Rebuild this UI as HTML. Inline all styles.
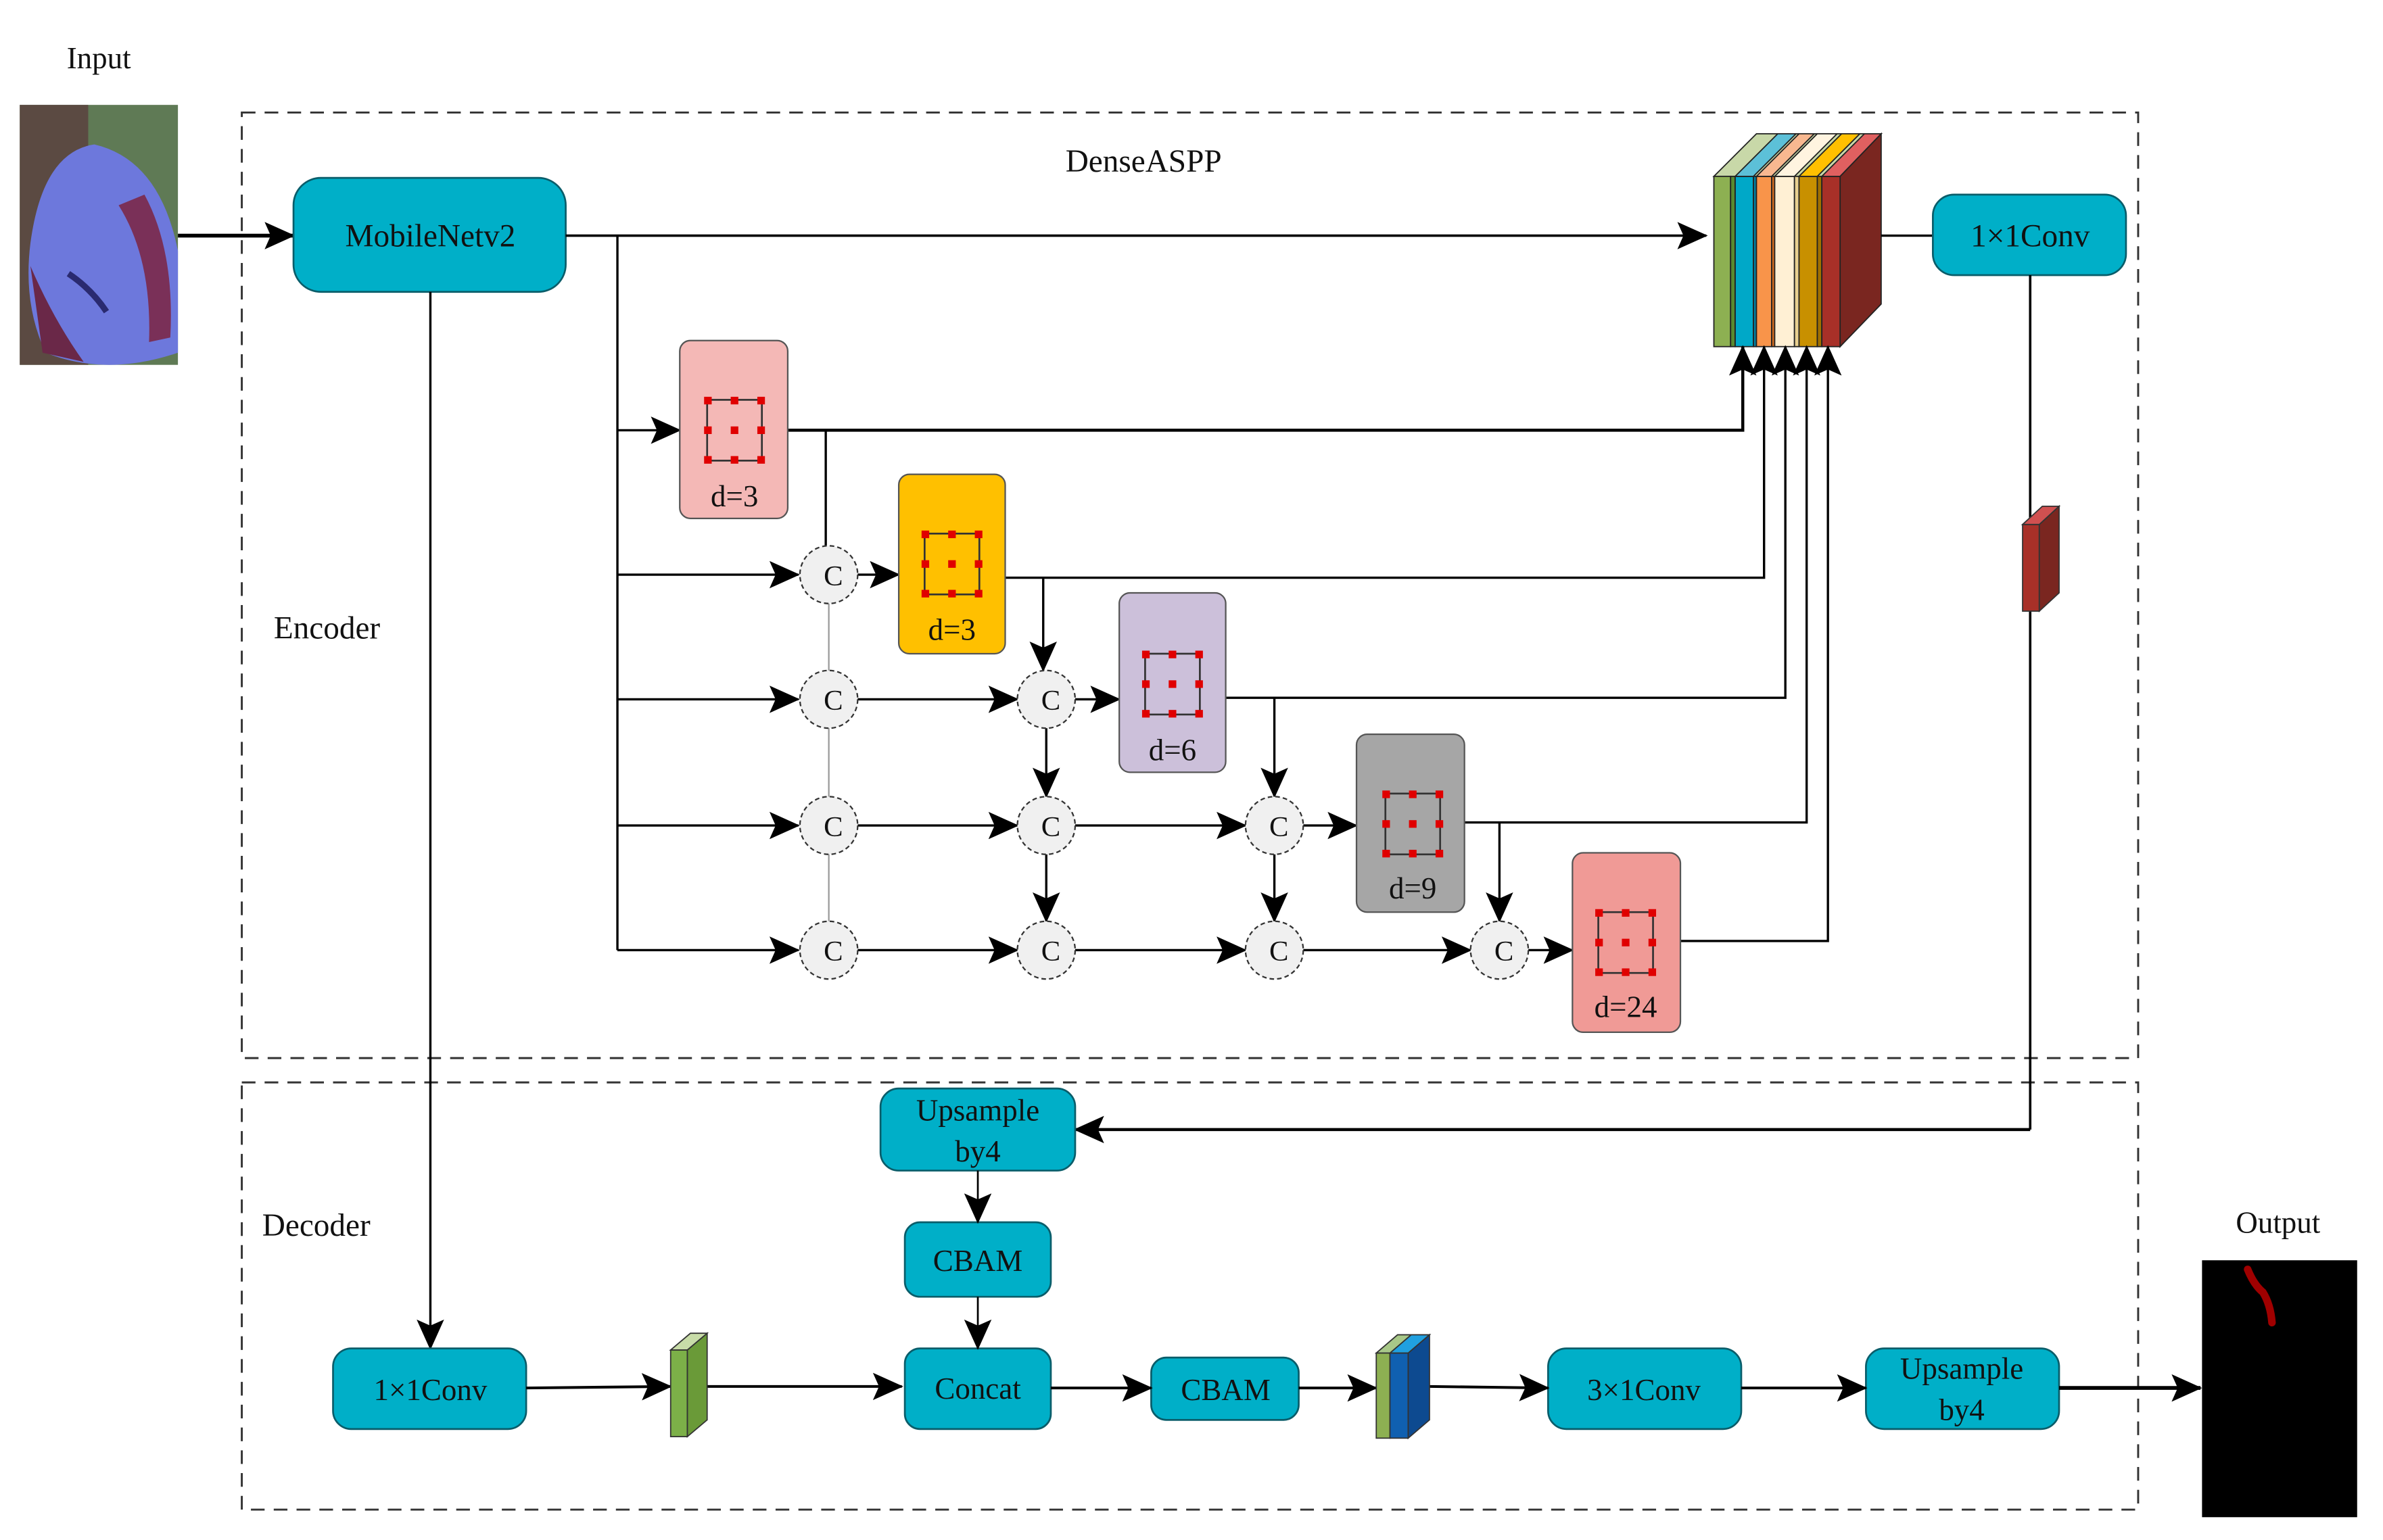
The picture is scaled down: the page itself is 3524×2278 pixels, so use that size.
<!DOCTYPE html>
<html><head><meta charset="utf-8"><style>
html,body{margin:0;padding:0;background:#fff;}
svg{display:block;}
text{font-family:"Liberation Serif",serif;fill:#111;}
</style></head><body>
<svg width="3524" height="2278" viewBox="0 0 1567 1013" preserveAspectRatio="none" xmlns="http://www.w3.org/2000/svg">
<defs>
<marker id="b" markerWidth="20" markerHeight="20" refX="19" refY="10" orient="auto" markerUnits="userSpaceOnUse" viewBox="0 0 20 20"><path d="M0,1 L20,10 L0,19 L4,10 z" fill="#000"/></marker>
<g id="k">
<rect x="-18" y="-20" width="36" height="40" fill="none" stroke="#333" stroke-width="1.2"/>
<g fill="#e00000">
<rect x="-20" y="-22" width="5" height="5"/><rect x="-2.5" y="-22" width="5" height="5"/><rect x="15" y="-22" width="5" height="5"/>
<rect x="-20" y="-2.5" width="5" height="5"/><rect x="-2.5" y="-2.5" width="5" height="5"/><rect x="15" y="-2.5" width="5" height="5"/>
<rect x="-20" y="17" width="5" height="5"/><rect x="-2.5" y="17" width="5" height="5"/><rect x="15" y="17" width="5" height="5"/>
</g></g>
</defs>

<!-- Input -->
<text x="65" y="45" font-size="20" text-anchor="middle">Input</text>
<rect x="13" y="69" width="104" height="171" fill="#5f7a55"/>
<rect x="13" y="69" width="45" height="171" fill="#5b4a42"/>
<path d="M20,160 Q28,100 62,95 Q105,105 117,165 L117,232 Q70,248 30,232 Q15,200 20,160 z" fill="#6d78dc"/>
<path d="M20,175 Q35,210 55,238 L28,232 z" fill="#6a2848"/>
<path d="M78,135 Q100,170 98,225 L112,222 Q115,165 95,128 z" fill="#7a3058"/>
<path d="M45,180 Q60,190 70,205" stroke="#2a2a70" stroke-width="4" fill="none"/>

<!-- dashed boxes -->
<rect x="159" y="74" width="1247" height="622" fill="none" stroke="#333" stroke-width="1.3" stroke-dasharray="9,6"/>
<rect x="159" y="712" width="1247" height="281" fill="none" stroke="#333" stroke-width="1.3" stroke-dasharray="9,6"/>

<text x="752" y="113" font-size="21" text-anchor="middle">DenseASPP</text>
<text x="215" y="420" font-size="21" text-anchor="middle">Encoder</text>
<text x="208" y="813" font-size="21" text-anchor="middle">Decoder</text>

<!-- MobileNet -->
<line x1="117" y1="155" x2="193" y2="155" stroke="#000" stroke-width="2.5" marker-end="url(#b)"/>
<rect x="193" y="117" width="179" height="75" rx="18" fill="#00afc8" stroke="#0a5d6a" stroke-width="1.2"/>
<text x="283" y="162" font-size="21" text-anchor="middle">MobileNetv2</text>
<line x1="372" y1="155" x2="1122" y2="155" stroke="#000" stroke-width="1.6" marker-end="url(#b)"/>

<!-- stack -->
<g stroke="#222" stroke-width="0.8">
<polygon points="1127,116 1155,88 1237,88 1209,116" fill="#c8d8a8"/>
<polygon points="1210,116 1237,88 1237,200 1210,228" fill="#7a2620"/>
<rect x="1127" y="116" width="11" height="112" fill="#8db052"/>
<rect x="1138" y="116" width="3" height="112" fill="#5a8a30"/>
<rect x="1141" y="116" width="12" height="112" fill="#00a8c8"/>
<rect x="1153" y="116" width="2" height="112" fill="#0080a0"/>
<rect x="1155" y="116" width="10" height="112" fill="#f8944a"/>
<rect x="1165" y="116" width="2" height="112" fill="#d06a20"/>
<rect x="1167" y="116" width="13" height="112" fill="#fff0d4"/>
<rect x="1180" y="116" width="3" height="112" fill="#e8d090"/>
<rect x="1183" y="116" width="12" height="112" fill="#c89000"/>
<rect x="1195" y="116" width="3" height="112" fill="#a07000"/>
<rect x="1198" y="116" width="12" height="112" fill="#a83028"/>
<polygon points="1141,116 1169,88 1181,88 1153,116" fill="#5cc0d8"/>
<polygon points="1155,116 1183,88 1193,88 1165,116" fill="#f8b890"/>
<polygon points="1167,116 1195,88 1208,88 1180,116" fill="#fff4e0"/>
<polygon points="1183,116 1211,88 1223,88 1195,116" fill="#ffc000"/>
<polygon points="1198,116 1226,88 1237,88 1210,116" fill="#e06060"/>
</g>
<line x1="1237" y1="155" x2="1271" y2="155" stroke="#000" stroke-width="1.5"/>
<rect x="1271" y="128" width="127" height="53" rx="14" fill="#00afc8" stroke="#0a5d6a" stroke-width="1.2"/>
<text x="1335" y="162" font-size="21" text-anchor="middle">1×1Conv</text>
<line x1="1335" y1="181" x2="1335" y2="743" stroke="#000" stroke-width="1.6"/>
<line x1="1335" y1="743" x2="707" y2="743" stroke="#000" stroke-width="2" marker-end="url(#b)"/>
<g stroke="#333" stroke-width="0.8">
<rect x="1330" y="345" width="11" height="57" fill="#a83028"/>
<polygon points="1341,345 1354,333 1354,390 1341,402" fill="#7a2620"/>
<polygon points="1330,345 1343,333 1354,333 1341,345" fill="#d05050"/>
</g>

<line x1="283" y1="192" x2="283" y2="887" stroke="#000" stroke-width="1.5" marker-end="url(#b)"/>

<g stroke="#000" stroke-width="1.5" fill="none">
<line x1="406" y1="155" x2="406" y2="625"/>
<line x1="406" y1="283" x2="447" y2="283" marker-end="url(#b)"/>
<line x1="406" y1="378" x2="525" y2="378" marker-end="url(#b)"/>
<line x1="406" y1="460" x2="525" y2="460" marker-end="url(#b)"/>
<line x1="406" y1="543" x2="525" y2="543" marker-end="url(#b)"/>
<line x1="406" y1="625" x2="525" y2="625" marker-end="url(#b)"/>
<polyline points="518,283 1146,283 1146,228" marker-end="url(#b)" stroke-width="2"/>
<polyline points="661,380 1160,380 1160,228" marker-end="url(#b)"/>
<polyline points="806,459 1174,459 1174,228" marker-end="url(#b)"/>
<polyline points="963,541 1188,541 1188,228" marker-end="url(#b)"/>
<polyline points="1105,619 1202,619 1202,228" marker-end="url(#b)"/>
<line x1="543" y1="283" x2="543" y2="359"/>
<line x1="686" y1="380" x2="686" y2="441" marker-end="url(#b)"/>
<line x1="838" y1="459" x2="838" y2="524" marker-end="url(#b)"/>
<line x1="986" y1="541" x2="986" y2="606" marker-end="url(#b)"/>
<line x1="688" y1="479" x2="688" y2="524" marker-end="url(#b)"/>
<line x1="688" y1="562" x2="688" y2="606" marker-end="url(#b)"/>
<line x1="838" y1="562" x2="838" y2="606" marker-end="url(#b)"/>
<line x1="564" y1="378" x2="591" y2="378" marker-end="url(#b)"/>
<line x1="564" y1="460" x2="669" y2="460" marker-end="url(#b)"/>
<line x1="564" y1="543" x2="669" y2="543" marker-end="url(#b)"/>
<line x1="564" y1="625" x2="669" y2="625" marker-end="url(#b)"/>
<line x1="707" y1="460" x2="736" y2="460" marker-end="url(#b)"/>
<line x1="707" y1="543" x2="819" y2="543" marker-end="url(#b)"/>
<line x1="707" y1="625" x2="819" y2="625" marker-end="url(#b)"/>
<line x1="857" y1="543" x2="892" y2="543" marker-end="url(#b)"/>
<line x1="857" y1="625" x2="967" y2="625" marker-end="url(#b)"/>
<line x1="1005" y1="625" x2="1034" y2="625" marker-end="url(#b)"/>
</g>
<line x1="545" y1="397" x2="545" y2="606" stroke="#999" stroke-width="1"/>

<g fill="#f0f0f0" stroke="#333" stroke-width="1" stroke-dasharray="3,2">
<circle cx="545" cy="378" r="19"/><circle cx="545" cy="460" r="19"/><circle cx="545" cy="543" r="19"/><circle cx="545" cy="625" r="19"/>
<circle cx="688" cy="460" r="19"/><circle cx="688" cy="543" r="19"/><circle cx="688" cy="625" r="19"/>
<circle cx="838" cy="543" r="19"/><circle cx="838" cy="625" r="19"/>
<circle cx="986" cy="625" r="19"/>
</g>
<g font-size="19" text-anchor="middle">
<text x="548" y="385">C</text><text x="548" y="467">C</text><text x="548" y="550">C</text><text x="548" y="632">C</text>
<text x="691" y="467">C</text><text x="691" y="550">C</text><text x="691" y="632">C</text>
<text x="841" y="550">C</text><text x="841" y="632">C</text>
<text x="989" y="632">C</text>
</g>

<g stroke="#555" stroke-width="1">
<rect x="447" y="224" width="71" height="117" rx="7" fill="#f4b8b6"/>
<rect x="591" y="312" width="70" height="118" rx="7" fill="#ffc000"/>
<rect x="736" y="390" width="70" height="118" rx="7" fill="#ccc0da"/>
<rect x="892" y="483" width="71" height="117" rx="7" fill="#a6a6a6"/>
<rect x="1034" y="561" width="71" height="118" rx="7" fill="#f09a96"/>
</g>
<use href="#k" x="483" y="283"/>
<use href="#k" x="626" y="371"/>
<use href="#k" x="771" y="450"/>
<use href="#k" x="929" y="542"/>
<use href="#k" x="1069" y="620"/>
<g font-size="20" text-anchor="middle">
<text x="483" y="333">d=3</text>
<text x="626" y="421">d=3</text>
<text x="771" y="500">d=6</text>
<text x="929" y="591">d=9</text>
<text x="1069" y="669">d=24</text>
</g>

<g fill="#00afc8" stroke="#0a5d6a" stroke-width="1.2">
<rect x="579" y="716" width="128" height="54" rx="12"/>
<rect x="595" y="804" width="96" height="49" rx="10"/>
<rect x="219" y="887" width="127" height="53" rx="12"/>
<rect x="595" y="887" width="96" height="53" rx="10"/>
<rect x="757" y="893" width="97" height="41" rx="10"/>
<rect x="1018" y="887" width="127" height="53" rx="12"/>
<rect x="1227" y="887" width="127" height="53" rx="12"/>
</g>
<g font-size="20" text-anchor="middle">
<text x="643" y="737">Upsample</text><text x="643" y="764">by4</text>
<text x="643" y="836">CBAM</text>
<text x="283" y="921">1×1Conv</text>
<text x="643" y="920">Concat</text>
<text x="806" y="921">CBAM</text>
<text x="1081" y="921">3×1Conv</text>
<text x="1290" y="907">Upsample</text><text x="1290" y="934">by4</text>
</g>
<g stroke="#000" stroke-width="1.8">
<line x1="643" y1="770" x2="643" y2="804" marker-end="url(#b)" stroke-width="1.2"/>
<line x1="643" y1="853" x2="643" y2="887" marker-end="url(#b)" stroke-width="1.2"/>
<line x1="346" y1="913" x2="441" y2="912" marker-end="url(#b)"/>
<line x1="465" y1="912" x2="593" y2="912" marker-end="url(#b)"/>
<line x1="691" y1="913" x2="757" y2="913" marker-end="url(#b)"/>
<line x1="854" y1="913" x2="905" y2="913" marker-end="url(#b)"/>
<line x1="940" y1="912" x2="1018" y2="913" marker-end="url(#b)"/>
<line x1="1145" y1="913" x2="1227" y2="913" marker-end="url(#b)"/>
<line x1="1354" y1="913" x2="1447" y2="913" marker-end="url(#b)" stroke-width="2.5"/>
</g>
<g stroke="#333" stroke-width="0.8">
<rect x="441" y="888" width="11" height="57" fill="#7cb048"/>
<polygon points="452,888 465,877 465,934 452,945" fill="#6a9a38"/>
<polygon points="441,888 454,877 465,877 452,888" fill="#c8dca8"/>
<rect x="905" y="890" width="9" height="56" fill="#8db052"/>
<rect x="914" y="890" width="12" height="56" fill="#1060b0"/>
<polygon points="926,890 940,878 940,934 926,946" fill="#0d4a90"/>
<polygon points="905,890 919,878 940,878 926,890" fill="#a8c888"/>
<polygon points="914,890 928,878 940,878 926,890" fill="#20a0e0"/>
</g>

<text x="1498" y="811" font-size="20" text-anchor="middle">Output</text>
<rect x="1448" y="829" width="102" height="169" fill="#000"/>
<path d="M1478,835 Q1482,845 1488,850 Q1493,858 1494,870" stroke="#a00000" stroke-width="5" fill="none" stroke-linecap="round"/>
</svg>
</body></html>
